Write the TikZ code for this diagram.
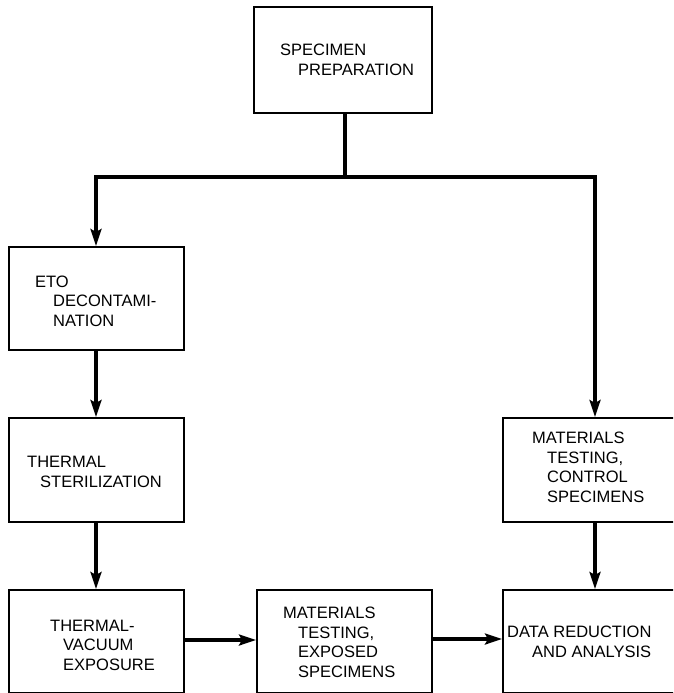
\documentclass[tikz,border=0pt]{standalone}
\usepackage{fontspec}
\setmainfont{Liberation Sans}
\usetikzlibrary{arrows.meta}
\begin{document}
\begin{tikzpicture}[x=1pt,y=-1pt,
  box/.style={draw, line width=2pt, rectangle, inner sep=0pt},
  lbl/.style={inner sep=0pt, anchor=base west, align=left,
    font=\fontsize{16.5}{19.5}\selectfont},
  conn/.style={line width=3.2pt},
  arr/.style={line width=3.2pt, -{Stealth[length=17pt,width=11pt,inset=3pt]}}]
\useasboundingbox (0,0) rectangle (673,693);
\clip (0,0) rectangle (673,693);
% boxes
\node[box, minimum width=178pt, minimum height=106pt] (spec) at (343,60) {};
\node[box, minimum width=175pt, minimum height=103pt] (eto) at (96,298.5) {};
\node[box, minimum width=175pt, minimum height=104pt] (ster) at (96,470) {};
\node[box, minimum width=175pt, minimum height=103pt] (tv) at (96,641.5) {};
\node[box, minimum width=175pt, minimum height=103pt] (mexp) at (344.5,641.5) {};
\node[box, minimum width=184pt, minimum height=104pt] (ctrl) at (595,470) {};
\node[box, minimum width=184pt, minimum height=103pt] (data) at (595,641.5) {};
% labels (anchor = baseline of the last line)
\node[lbl] (tspec) at (280,75) {SPECIMEN\\\hspace*{18pt}PREPARATION};
\node[lbl] (teto) at (35,326) {ETO\\\hspace*{18pt}DECONTAMI-\\\hspace*{18pt}NATION};
\node[lbl] (tster) at (27,487) {THERMAL\\\hspace*{13pt}STERILIZATION};
\node[lbl] (ttv) at (50,670) {THERMAL-\\\hspace*{13pt}VACUUM\\\hspace*{13pt}EXPOSURE};
\node[lbl] (tmexp) at (283,677) {MATERIALS\\\hspace*{15pt}TESTING,\\\hspace*{15pt}EXPOSED\\\hspace*{15pt}SPECIMENS};
\node[lbl] (tctrl) at (532,502) {MATERIALS\\\hspace*{15pt}TESTING,\\\hspace*{15pt}CONTROL\\\hspace*{15pt}SPECIMENS};
\node[lbl] (tdata) at (507,657) {DATA REDUCTION\\\hspace*{25pt}AND ANALYSIS};
% connectors
\coordinate (j) at (345,177);
\draw[conn] (j |- spec.south) -- (j);
\draw[arr] (j) -| (eto.north);
\draw[arr] (j) -| (ctrl.north);
\draw[arr] (eto.south) -- (ster.north);
\draw[arr] (ster.south) -- (tv.north);
\draw[arr] (ctrl.south) -- (data.north);
\draw[arr] (tv.east |- 0,640) -- (mexp.west |- 0,640);
\draw[arr] (mexp.east |- 0,639) -- (data.west |- 0,639);
\end{tikzpicture}
\end{document}
